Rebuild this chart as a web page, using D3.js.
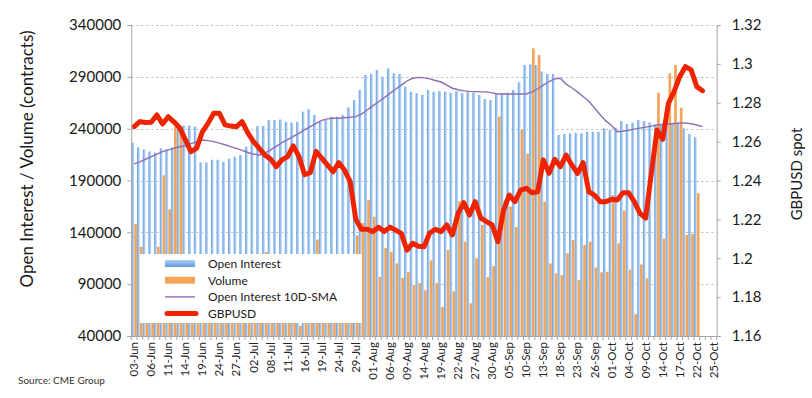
<!DOCTYPE html>
<html>
<head>
<meta charset="utf-8">
<script src="https://cdn.jsdelivr.net/npm/d3@7/dist/d3.min.js"></script>
<style>
  html, body { margin: 0; padding: 0; background: #fff; }
  svg { display: block; font-family: Lato, "Open Sans", sans-serif; }
</style>
</head>
<body>
<svg id="chart" width="812" height="398"></svg>
<script>
// trading days on the category axis
const dates = [
  "03-Jun","04-Jun","05-Jun","06-Jun","07-Jun","10-Jun","11-Jun","12-Jun","13-Jun","14-Jun",
  "17-Jun","18-Jun","19-Jun","20-Jun","21-Jun","24-Jun","25-Jun","26-Jun","27-Jun","28-Jun",
  "01-Jul","02-Jul","03-Jul","05-Jul","08-Jul","09-Jul","10-Jul","11-Jul","12-Jul","15-Jul",
  "16-Jul","17-Jul","18-Jul","19-Jul","22-Jul","23-Jul","24-Jul","25-Jul","26-Jul","29-Jul",
  "30-Jul","31-Jul","01-Aug","02-Aug","05-Aug","06-Aug","07-Aug","08-Aug","09-Aug","12-Aug",
  "13-Aug","14-Aug","15-Aug","16-Aug","19-Aug","20-Aug","21-Aug","22-Aug","23-Aug","26-Aug",
  "27-Aug","28-Aug","29-Aug","30-Aug","03-Sep","04-Sep","05-Sep","06-Sep","09-Sep","10-Sep",
  "11-Sep","12-Sep","13-Sep","16-Sep","17-Sep","18-Sep","19-Sep","20-Sep","23-Sep","24-Sep",
  "25-Sep","26-Sep","27-Sep","30-Sep","01-Oct","02-Oct","03-Oct","04-Oct","07-Oct","08-Oct",
  "09-Oct","10-Oct","11-Oct","14-Oct","15-Oct","16-Oct","17-Oct","18-Oct","21-Oct","22-Oct",
  "23-Oct","24-Oct","25-Oct"
];

// open interest (contracts)
const openInterest = [
  226500, 222000, 220000, 218000, 217000, 221000, 220000, 222000, 243000, 243000,
  243000, 242000, 207500, 207500, 210000, 210000, 208000, 211000, 213000, 214600,
  222600, 232000, 242600, 242600, 248400, 248400, 248800, 246700, 246000, 246700,
  256400, 258700, 253300, 246700, 248400, 251600, 251600, 253300, 260600, 267600,
  277300, 291800, 292700, 296600, 290200, 298200, 293400, 292700, 280500, 275700,
  274100, 272500, 277300, 275700, 276300, 275700, 274700, 276300, 274100, 275700,
  274700, 272500, 268600, 267600, 273400, 274100, 274700, 277300, 284700, 301400,
  302000, 301400, 295000, 292700, 292700, 233900, 235000, 235500, 236000, 235500,
  237000, 237000, 237000, 240300, 238700, 241000, 247400, 244500, 245800, 248400,
  247400, 246000, 244000, 244000, 245000, 245000, 246000, 240300, 234800, 231700
];

// volume (contracts); null = no bar shown
const volume = [
  148000, 126000, 98000, 92000, 126000, 195000, 162000, 242000, 242000, 105000,
  88000, 80000, 95000, 85000, 90000, 75000, 80000, 96000, 88000, 110000,
  100000, 92000, 70000, 121000, 95000, 88000, 100000, 92000, 85000, 50000,
  105000, 110000, 133000, 98000, 90000, 85000, 95000, 100000, 112000, 137000,
  149000, 171000, 155000, 97000, 125000, 121000, 110000, 96000, 102000, 89000,
  91000, 84000, 113000, 91000, 68000, 123000, 83000, 170000, 131000, 71500,
  115000, 147000, 97000, 107500, 251600, 171000, 164700, 145000, 238700, 216000,
  317500, 311000, 169600, 110000, 100500, 98800, 119800, 132600, 94000, 127800,
  131000, 106000, 101400, 102000, 176000, 129400, 161000, 104000, 61000, 109000,
  95600, null, 274700, 134000, 293400, 301400, 260200, 137400, 138400, 177600
];

// open interest 10-day SMA
const oiSma = [
  206000, 208000, 210500, 213000, 215500, 217800, 219500, 221000, 222500, 223500,
  225500, 227500, 229000, 228500, 227500, 226000, 224500, 222600, 221000, 219000,
  217000, 215500, 214600, 216500, 219500, 223000, 226500, 229500, 232500, 235500,
  239000, 242000, 245000, 248000, 249500, 250000, 250000, 250500, 251000, 251600,
  254000, 258000, 262000, 266000, 270000, 274000, 278000, 282000, 286000, 288600,
  289500, 289000, 288000, 286500, 285000, 282000, 279000, 277500, 276500, 276000,
  275700, 275500, 275500, 274500, 273500, 273400, 273400, 273400, 273400, 273500,
  275500, 278500, 282000, 285500, 288000, 288600, 283000, 279500, 275500, 271000,
  266500, 260000, 253500, 247500, 243000, 237000, 237500, 238500, 239500, 240500,
  241500, 242500, 243500, 244000, 244500, 245000, 245300, 245500, 244800, 243500,
  242000
];

// GBPUSD spot
const gbpusd = [
  1.2677, 1.2703, 1.2698, 1.2700, 1.2737, 1.2691, 1.2728, 1.2702, 1.2672, 1.2610,
  1.2548, 1.2566, 1.2650, 1.2694, 1.2746, 1.2746, 1.2686, 1.2680, 1.2677, 1.2703,
  1.2645, 1.2600, 1.2566, 1.2531, 1.2510, 1.2471, 1.2506, 1.2523, 1.2578, 1.2523,
  1.2430, 1.2440, 1.2550, 1.2515, 1.2480, 1.2445, 1.2492, 1.2454, 1.2395, 1.2200,
  1.2149, 1.2149, 1.2137, 1.2159, 1.2137, 1.2160, 1.2145, 1.2128, 1.2042, 1.2077,
  1.2062, 1.2059, 1.2130, 1.2149, 1.2137, 1.2171, 1.2120, 1.2231, 1.2286, 1.2223,
  1.2291, 1.2206, 1.2188, 1.2171, 1.2085, 1.2248, 1.2325, 1.2291, 1.2351, 1.2360,
  1.2337, 1.2342, 1.2506, 1.2437, 1.2509, 1.2471, 1.2531, 1.2480, 1.2437, 1.2492,
  1.2342, 1.2325, 1.2291, 1.2291, 1.2303, 1.2300, 1.2337, 1.2337, 1.2291, 1.2231,
  1.2206, 1.2437, 1.2660, 1.2612, 1.2797, 1.2857, 1.2934, 1.2986, 1.2969, 1.2883,
  1.2862
];

const leftTicks = [40000, 90000, 140000, 190000, 240000, 290000, 340000];
const rightTicks = [1.16, 1.18, 1.20, 1.22, 1.24, 1.26, 1.28, 1.30, 1.32];

const margin = { top: 25, right: 95.3, bottom: 62, left: 131.3 };
const W = 812, H = 398;
const plotW = W - margin.left - margin.right;
const plotH = H - margin.top - margin.bottom;

const svg = d3.select("#chart");

const defs = svg.append("defs");
const barGrad = defs.append("linearGradient")
  .attr("id", "oiGrad")
  .attr("x1", "0").attr("y1", "0").attr("x2", "1").attr("y2", "0");
barGrad.append("stop").attr("offset", "0%").attr("stop-color", "#619fe4");
barGrad.append("stop").attr("offset", "100%").attr("stop-color", "#cadff6");

const legGrad = defs.append("linearGradient")
  .attr("id", "oiLegGrad")
  .attr("x1", "0").attr("y1", "0").attr("x2", "0").attr("y2", "1");
legGrad.append("stop").attr("offset", "0%").attr("stop-color", "#b4cff1");
legGrad.append("stop").attr("offset", "100%").attr("stop-color", "#5e9ce0");

const g = svg.append("g")
  .attr("transform", "translate(" + margin.left + "," + margin.top + ")");

let x = d3.scaleBand()
  .domain(dates)
  .range([0, plotW])
  .padding(0);

let sub = d3.scaleBand()
  .domain(["oi", "vol"])
  .range([0, x.bandwidth()])
  .paddingInner(0.04)
  .paddingOuter(0.02);

let y = d3.scaleLinear()
  .domain([40000, 340000])
  .range([plotH, 0]);

let y2 = d3.scaleLinear()
  .domain([1.16, 1.32])
  .range([plotH, 0]);

// dotted grid
g.append("g")
  .selectAll("line")
  .data(leftTicks.slice(1))
  .enter().append("line")
  .attr("x1", 0)
  .attr("x2", plotW)
  .attr("y1", (d) => Math.round(y(d)) + 0.5)
  .attr("y2", (d) => Math.round(y(d)) + 0.5)
  .attr("stroke", "#b8b8b8")
  .attr("stroke-width", 1)
  .attr("stroke-dasharray", "2,3");

// open interest bars
g.append("g")
  .selectAll("rect")
  .data(openInterest)
  .enter().append("rect")
  .attr("x", (d, i) => x(dates[i]) + sub("oi"))
  .attr("width", sub.bandwidth())
  .attr("y", (d) => y(d))
  .attr("height", (d) => plotH - y(d))
  .attr("fill", "url(#oiGrad)");

// volume bars
g.append("g")
  .selectAll("rect")
  .data(volume.map((v, i) => ({ v: v, i: i })).filter((d) => d.v != null))
  .enter().append("rect")
  .attr("x", (d) => x(dates[d.i]) + sub("vol"))
  .attr("width", sub.bandwidth())
  .attr("y", (d) => y(d.v))
  .attr("height", (d) => plotH - y(d.v))
  .attr("fill", "#f4a55c");

const cx = (i) => x(dates[i]) + x.bandwidth() / 2;

// SMA line
g.append("path")
  .datum(oiSma)
  .attr("fill", "none")
  .attr("stroke", "#8d6db6")
  .attr("stroke-width", 1.4)
  .attr("d", d3.line().x((d, i) => cx(i)).y((d) => y(d)));

// GBPUSD line
g.append("path")
  .datum(gbpusd)
  .attr("fill", "none")
  .attr("stroke", "#ee2400")
  .attr("stroke-width", 5)
  .attr("stroke-linejoin", "round")
  .attr("stroke-linecap", "round")
  .attr("d", d3.line().x((d, i) => cx(i)).y((d) => y2(d)));

// axes
const axisColor = "#a6a6a6";

const leftAxis = g.append("g")
  .call(d3.axisLeft(y).tickValues(leftTicks).tickSize(4).tickFormat(d3.format("d")));
leftAxis.select(".domain").attr("stroke", axisColor);
leftAxis.selectAll(".tick line").attr("stroke", axisColor);
leftAxis.selectAll(".tick text")
  .attr("x", -10)
  .attr("fill", "#1a1a1a")
  .style("font-size", "15px")
  .style("font-family", "Lato, sans-serif");

const rightAxis = g.append("g")
  .attr("transform", "translate(" + plotW + ",0)")
  .call(d3.axisRight(y2).tickValues(rightTicks).tickSize(4).tickFormat((d) => String(+d.toFixed(2))));
rightAxis.select(".domain").attr("stroke", axisColor);
rightAxis.selectAll(".tick line").attr("stroke", axisColor);
rightAxis.selectAll(".tick text")
  .attr("x", 15)
  .attr("fill", "#1a1a1a")
  .style("font-size", "15px")
  .style("font-family", "Lato, sans-serif");

// category axis
const bottomAxis = g.append("g")
  .attr("transform", "translate(0," + plotH + ")");
bottomAxis.append("line")
  .attr("x1", 0).attr("x2", plotW)
  .attr("y1", 0.5).attr("y2", 0.5)
  .attr("stroke", axisColor);
bottomAxis.selectAll(".cat-tick")
  .data(dates.concat(["end"]))
  .enter().append("line")
  .attr("class", "cat-tick")
  .attr("x1", (d, i) => i * x.step())
  .attr("x2", (d, i) => i * x.step())
  .attr("y1", 0)
  .attr("y2", 4)
  .attr("stroke", axisColor);
bottomAxis.selectAll(".cat-label")
  .data(dates.filter((d, i) => i % 3 === 0))
  .enter().append("text")
  .attr("class", "cat-label")
  .attr("transform", (d) => "translate(" + (x(d) + x.bandwidth() / 2) + ",6) rotate(-90)")
  .attr("dy", "0.35em")
  .attr("text-anchor", "end")
  .attr("fill", "#262626")
  .style("font-size", "11.5px")
  .text((d) => d);

// axis titles
svg.append("text")
  .attr("transform", "translate(33," + 159 + ") rotate(-90)")
  .attr("text-anchor", "middle")
  .attr("fill", "#1a1a1a")
  .style("font-size", "17px")
  .text("Open Interest / Volume (contracts)");

svg.append("text")
  .attr("transform", "translate(802," + 174 + ") rotate(-90)")
  .attr("text-anchor", "middle")
  .attr("fill", "#1a1a1a")
  .style("font-size", "15px")
  .text("GBPUSD spot");

svg.append("text")
  .attr("x", 18)
  .attr("y", 384)
  .attr("fill", "#333")
  .style("font-size", "10px")
  .text("Source: CME Group");

// legend
const legend = svg.append("g").attr("transform", "translate(140,254)");
legend.append("rect")
  .attr("width", 222)
  .attr("height", 69)
  .attr("fill", "#fff");

const items = [
  { label: "Open Interest", kind: "oi" },
  { label: "Volume", kind: "vol" },
  { label: "Open Interest 10D-SMA", kind: "sma" },
  { label: "GBPUSD", kind: "fx" }
];

const row = legend.selectAll(".item")
  .data(items)
  .enter().append("g")
  .attr("class", "item")
  .attr("transform", (d, i) => "translate(0," + (9.5 + i * 16.7) + ")");

row.each(function (d) {
  const r = d3.select(this);
  if (d.kind === "oi" || d.kind === "vol") {
    r.append("rect")
      .attr("x", 25).attr("y", -3.5)
      .attr("width", 30).attr("height", 7)
      .attr("fill", d.kind === "oi" ? "url(#oiLegGrad)" : "#f4a55c");
  } else if (d.kind === "sma") {
    r.append("line")
      .attr("x1", 25).attr("x2", 55)
      .attr("stroke", "#8d6db6").attr("stroke-width", 1.4);
  } else {
    r.append("line")
      .attr("x1", 27).attr("x2", 56)
      .attr("stroke", "#ee2400").attr("stroke-width", 5)
      .attr("stroke-linecap", "round");
  }
  r.append("text")
    .attr("x", 68)
    .attr("dy", "0.36em")
    .attr("fill", "#1a1a1a")
    .style("font-size", "12px")
    .text(d.label);
});
</script>
</body>
</html>
